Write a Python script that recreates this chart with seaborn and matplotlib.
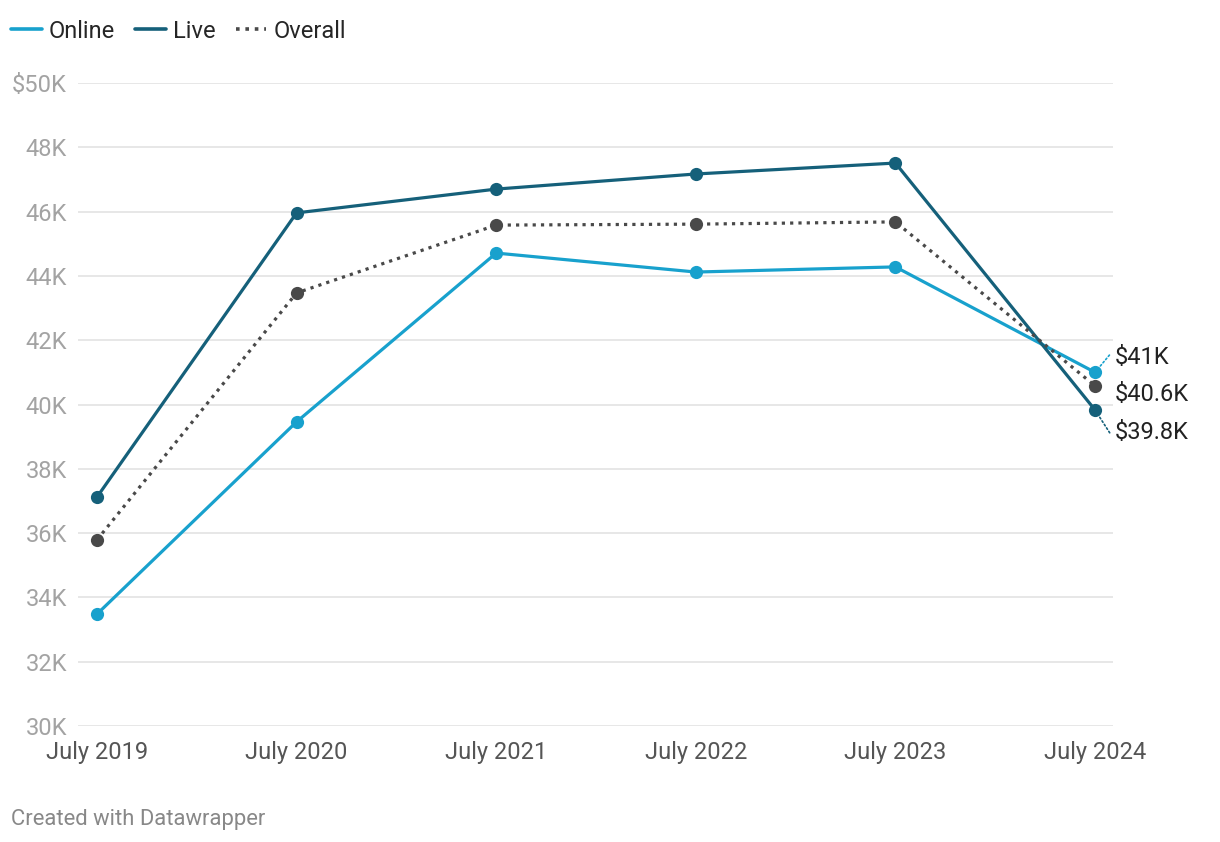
import pandas as pd
import numpy as np
import matplotlib.pyplot as plt
import seaborn as sns
from matplotlib.lines import Line2D

# 数据
years = ['July 2019', 'July 2020', 'July 2021', 'July 2022', 'July 2023', 'July 2024']
online = [33.48, 39.46, 44.71, 44.12, 44.28, 41.0]
live = [37.12, 45.96, 46.70, 47.17, 47.51, 39.83]
overall = [35.79, 43.47, 45.58, 45.61, 45.68, 40.58]
end_labels = ['$41K', '$39.8K', '$40.6K']
y_ticks = [30, 32, 34, 36, 38, 40, 42, 44, 46, 48, 50]
y_tick_labels = ['30K', '32K', '34K', '36K', '38K', '40K', '42K', '44K', '46K', '48K', '$50K']

colors = {'Online': '#18a1cd', 'Live': '#15607a', 'Overall': '#494949'}

sns.set_theme(style='white')
plt.rcParams['font.family'] = ['Roboto', 'DejaVu Sans']

df = pd.DataFrame({
    'x': list(range(len(years))) * 3,
    'value': online + live + overall,
    'series': ['Online'] * 6 + ['Live'] * 6 + ['Overall'] * 6,
})

fig = plt.figure(figsize=(12.2, 8.42), dpi=100)
ax = fig.add_axes([78 / 1220, 116 / 842, 1035 / 1220, 643 / 842])

sns.lineplot(data=df, x='x', y='value', hue='series', style='series',
             palette=colors,
             dashes={'Online': '', 'Live': '', 'Overall': (1, 1.6)},
             markers={'Online': 'o', 'Live': 'o', 'Overall': 'o'},
             markersize=9.5, markeredgewidth=0, linewidth=2.3,
             legend=False, ax=ax)

ax.set_xlim(-0.095, 5.09)
ax.set_ylim(30, 50)
ax.set_yticks(y_ticks)
ax.set_yticklabels(y_tick_labels)
ax.set_xticks(range(len(years)))
ax.set_xticklabels(years)
ax.set_xlabel('')
ax.set_ylabel('')
ax.grid(axis='y', color='#e0e0e0', linewidth=1.1)
ax.set_axisbelow(True)
for s in ax.spines.values():
    s.set_visible(False)
ax.tick_params(axis='y', length=0, pad=8, labelsize=17, labelcolor='#a3a3a3')
ax.tick_params(axis='x', length=0, pad=10.5, labelsize=17, labelcolor='#555555')

# 末端标签
last = len(years) - 1
ax.annotate(end_labels[0], (last, online[-1]), xytext=(14, 11), textcoords='offset points',
            fontsize=17, color='#222222', va='center', ha='left',
            arrowprops=dict(arrowstyle='-', linestyle=(0, (1, 1.5)), color=colors['Online'],
                            lw=1.2, shrinkA=2, shrinkB=6, relpos=(0, 0.85)))
ax.annotate(end_labels[2], (last, overall[-1]), xytext=(14, -6), textcoords='offset points',
            fontsize=17, color='#222222', va='center', ha='left')
ax.annotate(end_labels[1], (last, live[-1]), xytext=(14, -16), textcoords='offset points',
            fontsize=17, color='#222222', va='center', ha='left',
            arrowprops=dict(arrowstyle='-', linestyle=(0, (1, 1.5)), color=colors['Live'],
                            lw=1.2, shrinkA=2, shrinkB=6, relpos=(0, 0.15)))

# 图例
handles = [
    Line2D([], [], color=colors['Online'], lw=2.6, solid_capstyle='round'),
    Line2D([], [], color=colors['Live'], lw=2.6, solid_capstyle='round'),
    Line2D([], [], color=colors['Overall'], lw=2.6, linestyle=(0, (1, 1.6))),
]
fig.legend(handles, ['Online', 'Live', 'Overall'], loc='center left',
           bbox_to_anchor=(11 / 1220, 1 - 31 / 842), ncol=3, frameon=False,
           fontsize=17, handlelength=1.3, handletextpad=0.3, columnspacing=0.85,
           borderaxespad=0, borderpad=0)

fig.text(11 / 1220, 1 - 820 / 842, 'Created with Datawrapper', fontsize=15.8,
         color='#888888', va='center', ha='left')

plt.savefig('out.png', dpi=100)
